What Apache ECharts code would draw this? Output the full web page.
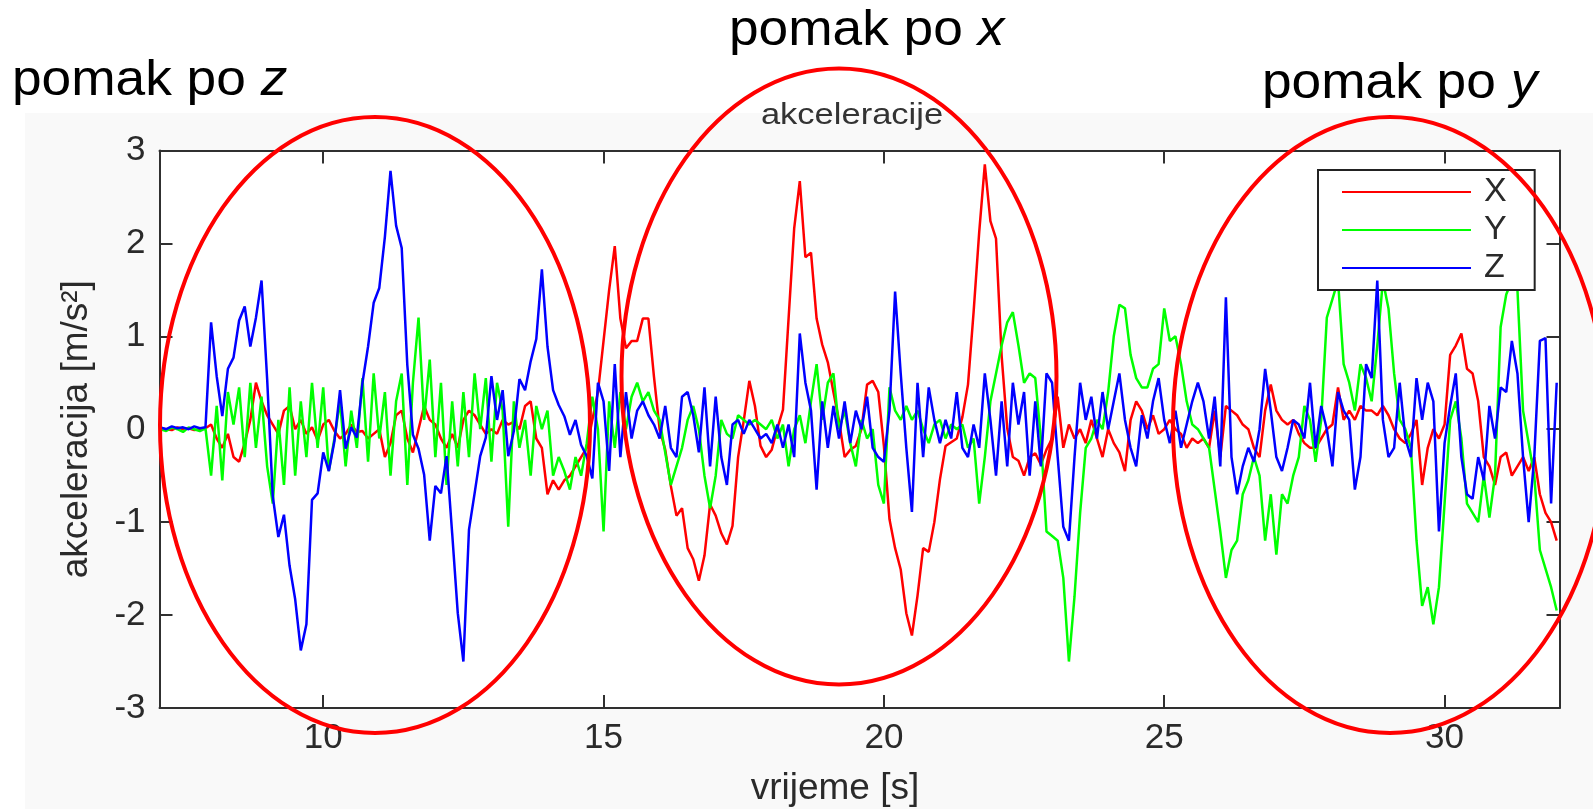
<!DOCTYPE html>
<html>
<head>
<meta charset="utf-8">
<title>akceleracije</title>
<script src="https://cdn.jsdelivr.net/npm/echarts@6/dist/echarts.min.js"></script>
<style>
  html, body { margin: 0; padding: 0; background: #ffffff; }
  #chart { width: 1593px; height: 809px; }
</style>
</head>
<body>
<div id="chart"></div>
<script>
// Sampling grid of the accelerometer log (seconds)
const t0 = 7.1;
const dt = 0.1;

const seriesNames = ['X', 'Y', 'Z'];
const xTicks = [10, 15, 20, 25, 30];
const yTicks = [-3, -2, -1, 0, 1, 2, 3];

// Acceleration along X [m/s^2]
const accX = [
  0.01, 0.0, -0.01, 0.02, 0.0, 0.01, -0.01, 0.0, 0.01,
  0.05, -0.1, -0.2, -0.05, -0.3, -0.35, -0.15, 0.1, 0.5, 0.3,
  0.15, 0.05, -0.05, 0.2, 0.25, 0.0, 0.1, -0.05, 0.02, -0.12,
  0.05, 0.1, -0.02, -0.1, -0.05, 0.05, -0.03, -0.02, -0.1, -0.05,
  0.0, -0.3, -0.15, 0.15, 0.2, -0.1, -0.25, 0.0, 0.25, 0.1,
  0.05, -0.1, -0.2, -0.05, -0.2, 0.1, 0.2, 0.15, 0.05, -0.05,
  0.0, -0.05, 0.1, 0.05, 0.08, 0.0, 0.25, 0.3, -0.1, -0.2,
  -0.7, -0.55, -0.65, -0.55, -0.5, -0.4, -0.3, -0.2, 0.1, 0.4,
  0.95, 1.5, 1.97, 1.19, 0.87, 0.95, 0.95, 1.19, 1.19, 0.56,
  0.0, -0.22, -0.61, -0.93, -0.85, -1.28, -1.4, -1.63, -1.36, -0.81,
  -0.93, -1.12, -1.24, -1.04, -0.3, 0.09, 0.52, 0.25, -0.18, -0.3,
  -0.22, 0.01, 0.21, 1.19, 2.16, 2.67, 1.85, 1.9, 1.19, 0.91,
  0.72, 0.4, 0.09, -0.3, -0.22, -0.18, 0.0, 0.48, 0.52, 0.4,
  -0.18, -0.97, -1.28, -1.51, -1.98, -2.22, -1.79, -1.28, -1.32, -1.0,
  -0.54, -0.18, -0.14, -0.1, 0.13, 0.48, 1.26, 2.12, 2.85, 2.24,
  2.05, 0.79, 0.01, -0.3, -0.34, -0.5, -0.3, -0.26, -0.38, -0.22,
  -0.1, 0.35, -0.2, 0.05, -0.1, 0.0, -0.15, 0.1, -0.1, -0.3,
  0.0, -0.15, -0.25, -0.45, 0.1, 0.3, 0.2, 0.0, 0.15, -0.05,
  0.0, 0.1, 0.0, -0.05, -0.2, -0.1, -0.15, -0.1, -0.2, 0.2,
  -0.3, 0.25, 0.2, 0.15, 0.05, 0.0, -0.2, -0.3, 0.2, 0.48,
  0.2, 0.1, 0.05, 0.1, -0.05, -0.15, -0.2, -0.2, -0.1, 0.0,
  0.05, 0.45, 0.1, 0.2, 0.1, 0.25, 0.2, 0.2, 0.15, 0.25,
  0.15, 0.0, -0.1, -0.15, -0.05, 0.1, -0.6, -0.2, 0.0, -0.1,
  0.05, 0.8, 0.9, 1.03, 0.65, 0.6, 0.3, -0.3, -0.4, -0.6,
  -0.3, -0.25, -0.5, -0.4, -0.3, -0.45, -0.3, -0.7, -0.9, -1.0,
  -1.2
];

// Acceleration along Y [m/s^2]
const accY = [
  0.0, -0.02, 0.02, 0.0, -0.03, 0.02, 0.0, -0.02, 0.01,
  -0.5, 0.25, -0.55, 0.4, 0.05, 0.45, -0.3, 0.5, -0.2, 0.35,
  -0.4, -0.8, 0.1, -0.6, 0.45, -0.5, 0.3, -0.3, 0.5, -0.2,
  0.45, -0.45, -0.1, 0.3, -0.4, 0.2, -0.2, 0.55, -0.35, 0.6,
  -0.1, 0.4, -0.5, 0.3, 0.6, -0.6, 0.5, 1.2, 0.1, 0.75,
  -0.3, 0.5, -0.6, 0.3, -0.4, 0.4, -0.3, 0.6, 0.0, 0.55,
  -0.35, 0.5, 0.2, -1.05, 0.3, -0.2, 0.1, -0.5, 0.25, 0.0,
  0.2, -0.5, -0.3, -0.45, -0.65, -0.3, -0.5, -0.15, 0.35, 0.0,
  -1.1, 0.3, -0.2, 0.4, 0.0, 0.35, 0.5, 0.3, 0.4, 0.2,
  0.1, -0.25, -0.6, -0.4, -0.2, 0.1, 0.25, 0.0, -0.5, -0.85,
  -0.5, 0.1, -0.05, -0.1, 0.15, 0.1, 0.05, 0.1, 0.05, 0.0,
  0.1, -0.1, 0.05, -0.4, 0.0, 0.15, -0.15, 0.3, 0.7, 0.1,
  0.5, 0.6, 0.0, 0.2, -0.15, -0.4, 0.1, -0.1, 0.0, -0.6,
  -0.8, 0.45, 0.2, 0.1, 0.25, 0.1, 0.2, 0.0, -0.15, 0.05,
  0.1, -0.1, 0.05, 0.0, 0.05, -0.2, -0.1, -0.8, -0.3, 0.3,
  0.6, 0.9, 1.15, 1.26, 0.9, 0.5, 0.6, 0.55, -0.1, -1.1,
  -1.15, -1.2, -1.6, -2.5, -1.8, -0.9, -0.2, -0.1, 0.1, 0.0,
  0.4, 1.0, 1.34, 1.3, 0.8, 0.55, 0.45, 0.45, 0.65, 0.7,
  1.3, 0.95, 1.0, 0.7, 0.3, 0.05, 0.0, -0.1, -0.2, -0.65,
  -1.1, -1.6, -1.3, -1.2, -0.7, -0.55, -0.3, -0.5, -1.2, -0.7,
  -1.35, -0.7, -0.8, -0.5, -0.3, 0.25, 0.1, -0.35, 0.1, 1.2,
  1.4, 1.6, 0.7, 0.5, 0.2, 0.7, 0.55, 0.3, 0.9, 1.6,
  1.3, 0.6, 0.1, 0.0, -0.2, -1.2, -1.9, -1.7, -2.1, -1.7,
  -0.8, 0.1, 0.3, -0.1, -0.8, -0.9, -1.0, -0.5, -0.95, -0.5,
  1.1, 1.45, 1.6, 1.5, 0.2, -0.15, -0.5, -1.3, -1.5, -1.7,
  -1.95
];

// Acceleration along Z [m/s^2]
const accZ = [
  0.02, 0.0, 0.03, 0.01, 0.02, 0.0, 0.03, 0.01, 0.02,
  1.15, 0.57, 0.14, 0.65, 0.77, 1.17, 1.32, 0.89, 1.2, 1.6,
  0.54, -0.72, -1.16, -0.92, -1.47, -1.83, -2.38, -2.1, -0.76, -0.69,
  -0.25, -0.45, -0.13, 0.42, -0.21, 0.02, -0.09, 0.5, 0.89, 1.36,
  1.52, 2.07, 2.78, 2.19, 1.95, 0.69, -0.06, -0.21, -0.49, -1.2,
  -0.61, -0.69, -0.29, -1.12, -1.98, -2.5, -1.08, -0.69, -0.29, -0.09,
  0.57, 0.1, 0.42, -0.29, -0.02, 0.54, 0.42, 0.73, 0.97, 1.72,
  0.89, 0.42, 0.26, 0.14, -0.06, 0.1, -0.17, -0.29, -0.53, 0.5,
  0.3, -0.45, 0.7, -0.3, 0.4, -0.1, 0.2, 0.3, 0.15, 0.05,
  -0.1, 0.25, -0.2, -0.3, 0.35, 0.4, 0.15, -0.25, 0.45, -0.4,
  0.35, -0.3, -0.6, 0.05, 0.1, -0.05, 0.1, 0.0, -0.1, -0.05,
  -0.15, 0.05, -0.2, 0.05, -0.3, 1.03, 0.5, 0.2, -0.65, 0.3,
  -0.2, 0.25, -0.1, 0.3, -0.15, 0.2, 0.0, 0.35, -0.2, -0.3,
  -0.35, 0.2, 1.48, 0.6, -0.2, -0.89, 0.5, -0.3, 0.45, 0.1,
  -0.15, 0.1, -0.1, 0.4, -0.2, -0.3, 0.05, -0.2, 0.6, 0.1,
  -0.5, 0.3, -0.4, 0.5, 0.05, 0.4, -0.5, 0.3, -0.4, 0.6,
  0.5, -0.3, -1.05, -1.2, -0.3, 0.5, 0.1, 0.35, -0.1, 0.4,
  0.0, 0.3, 0.6, 0.1, -0.2, -0.4, 0.15, -0.1, 0.3, 0.55,
  0.1, -0.15, 0.2, -0.2, 0.05, 0.3, 0.5, 0.3, -0.1, 0.35,
  -0.4, 1.42, -0.3, -0.7, -0.4, -0.2, -0.35, 0.0, 0.65, 0.2,
  -0.3, -0.45, -0.2, 0.1, 0.05, -0.1, 0.5, -0.2, 0.25, 0.0,
  -0.4, 0.4, 0.2, 0.1, -0.65, -0.3, 0.7, 0.55, 1.6, 0.1,
  -0.3, -0.2, 0.5, -0.1, -0.3, 0.55, 0.1, 0.5, 0.3, -1.1,
  -0.15, 0.25, 0.6, -0.3, -0.7, -0.75, -0.3, -0.55, 0.25, -0.1,
  0.45, 0.4, 0.95, 0.6, -0.3, -1.0, -0.3, 0.95, 0.98, -0.8,
  0.5
];

const seriesColors = ['#ff0000', '#00ff00', '#0000ff'];
const seriesValues = [accX, accY, accZ];

const time = accX.map((_, i) => +(t0 + i * dt).toFixed(2));
const toPairs = (vals) => vals.map((v, i) => [time[i], v]);

const matlabFont = '"Liberation Sans", Arial, Helvetica, sans-serif';
const annotFont = '"Liberation Sans", Arial, sans-serif';
const frameColor = '#303030';
const textColor = '#2a2a2a';

const frameAxis = {
  axisLine: { show: true, onZero: false, lineStyle: { color: frameColor, width: 2 } },
  splitLine: { show: false }
};

function annotation(x, y, axisLetter) {
  return {
    type: 'text', z: 100, x: x, y: y, scaleX: 1.065, silent: true,
    style: {
      text: 'pomak po {i|' + axisLetter + '}', fill: '#000000', font: '50px ' + annotFont,
      align: 'left', verticalAlign: 'middle',
      rich: { i: { fill: '#000000', fontStyle: 'italic', fontSize: 50, fontFamily: annotFont } }
    }
  };
}

function windowEllipse(cx, cy, rx, ry) {
  return {
    type: 'ellipse', z: 100, silent: true,
    shape: { cx: cx, cy: cy, rx: rx, ry: ry },
    style: { fill: 'none', stroke: '#ff0000', lineWidth: 4 }
  };
}

const chart = echarts.init(document.getElementById('chart'), null, { renderer: 'canvas' });

const option = {
  animation: false,
  backgroundColor: '#f9f9f9',
  grid: {
    left: 159.5, right: 33.5, top: 150.4, bottom: 101,
    show: true, backgroundColor: '#ffffff', borderWidth: 0,
    containLabel: false, outerBoundsMode: 'none'
  },
  legend: {
    data: seriesNames,
    orient: 'vertical',
    left: 1318, top: 170,
    padding: [5, 28, 5, 24],
    itemGap: 4,
    itemWidth: 129, itemHeight: 2,
    icon: 'rect',
    backgroundColor: '#ffffff',
    borderColor: '#222222', borderWidth: 2,
    textStyle: { fontSize: 34, lineHeight: 34, color: textColor, fontFamily: matlabFont, padding: [0, 0, 0, 8] }
  },
  xAxis: [
    Object.assign({}, frameAxis, {
      type: 'value', position: 'bottom', min: 7.08, max: 32.05,
      axisTick: { show: true, inside: true, length: 13, customValues: xTicks, lineStyle: { color: frameColor, width: 2 } },
      axisLabel: {
        customValues: xTicks, margin: 13, fontSize: 35, color: textColor, fontFamily: matlabFont,
        formatter: (v) => (xTicks.indexOf(v) >= 0 ? String(v) : '')
      },
      name: 'vrijeme [s]', nameLocation: 'middle', nameGap: 62,
      nameTextStyle: { fontSize: 37, color: textColor, fontFamily: matlabFont, padding: [0, 49, 0, 0] }
    }),
    Object.assign({}, frameAxis, {
      type: 'value', position: 'top', min: 7.08, max: 32.05,
      axisTick: { show: true, inside: true, length: 13, customValues: xTicks, lineStyle: { color: frameColor, width: 2 } },
      axisLabel: { show: false }
    })
  ],
  yAxis: [
    Object.assign({}, frameAxis, {
      type: 'value', position: 'left', min: yTicks[0], max: yTicks[yTicks.length - 1], interval: 1,
      axisTick: { show: true, inside: true, length: 13, lineStyle: { color: frameColor, width: 2 } },
      axisLabel: { margin: 14, fontSize: 35, color: textColor, fontFamily: matlabFont },
      name: 'akceleracija [m/s²]', nameLocation: 'middle', nameGap: 64, nameRotate: 90,
      nameTextStyle: { fontSize: 37, color: textColor, fontFamily: matlabFont }
    }),
    Object.assign({}, frameAxis, {
      type: 'value', position: 'right', min: yTicks[0], max: yTicks[yTicks.length - 1], interval: 1,
      axisTick: { show: true, inside: true, length: 13, lineStyle: { color: frameColor, width: 2 } },
      axisLabel: { show: false }
    })
  ],
  series: seriesNames.map((name, k) => ({
    name: name,
    type: 'line',
    xAxisIndex: 0, yAxisIndex: 0,
    data: toPairs(seriesValues[k]),
    showSymbol: false, symbol: 'none',
    color: seriesColors[k],
    lineStyle: { width: 2.5, color: seriesColors[k] },
    clip: true,
    z: 2 + k
  })),
  graphic: [
    // white margin strips around the figure panel
    { type: 'rect', z: 0, silent: true, shape: { x: 0, y: 0, width: 1593, height: 113 }, style: { fill: '#ffffff' } },
    { type: 'rect', z: 0, silent: true, shape: { x: 0, y: 0, width: 25, height: 809 }, style: { fill: '#ffffff' } },
    // plot title
    {
      type: 'text', z: 50, x: 852, y: 116, scaleX: 1.15, silent: true,
      style: { text: 'akceleracije', fill: '#333333', font: '30px ' + matlabFont, align: 'center', verticalAlign: 'middle' }
    },
    // movement annotations
    annotation(12, 81, 'z'),
    annotation(729, 31, 'x'),
    annotation(1262, 84.5, 'y'),
    // highlighted movement windows
    windowEllipse(375, 425, 215, 308),
    windowEllipse(839, 376.5, 217.5, 308),
    windowEllipse(1390, 425, 217, 308)
  ]
};

chart.setOption(option);
</script>
</body>
</html>
